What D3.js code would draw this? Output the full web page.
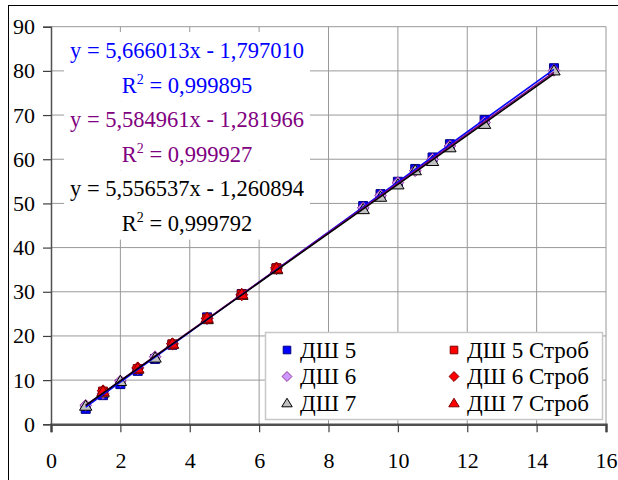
<!DOCTYPE html>
<html>
<head>
<meta charset="utf-8">
<script src="https://cdn.jsdelivr.net/npm/d3@7"></script>
<style>
body { margin: 0; background: #fff; }
</style>
</head>
<body>
<script>
// x values of the measured points
var xMain = [1, 1.5, 2, 2.5, 3, 3.5, 4.5, 5.5, 6.5, 9, 9.5, 10, 10.5, 11, 11.5, 12.5, 14.5];
var xStrob = [1.5, 2.5, 3.5, 4.5, 5.5, 6.5];

// series values
var dsh5 = [3.5, 6.6, 9.1, 12.1, 14.8, 18.0, 24.2, 29.5, 35.3, 49.4, 52.1, 54.9, 57.8, 60.4, 63.4, 68.9, 80.6];
var dsh6 = [4.3, 7.0, 9.8, 12.6, 15.3, 18.2, 23.9, 29.4, 35.2, 49.0, 51.8, 54.7, 57.4, 60.0, 63.0, 68.3, 80.1];
var dsh7 = [4.2, 7.2, 9.8, 12.6, 15.1, 18.2, 23.8, 29.3, 35.1, 48.7, 51.5, 54.3, 57.5, 59.6, 62.7, 68.0, 80.1];
var dsh5Strob = [7.4, 12.5, 18.1, 23.9, 29.4, 35.3];
var dsh6Strob = [7.6, 12.8, 18.2, 24.0, 29.3, 35.4];
var dsh7Strob = [7.5, 12.7, 18.3, 24.1, 29.5, 35.3];

var seriesNames = ["ДШ 5", "ДШ 6", "ДШ 7", "ДШ 5 Строб", "ДШ 6 Строб", "ДШ 7 Строб"];

// linear trendlines of the first three series
var trendSlopes = [5.666013, 5.584961, 5.556537];
var trendIntercepts = [-1.797010, -1.281966, -1.260894];
var trendR2 = [0.999895, 0.999927, 0.999792];

var xTicks = [0, 2, 4, 6, 8, 10, 12, 14, 16];
var yTicks = [0, 10, 20, 30, 40, 50, 60, 70, 80, 90];

var FONT = "'Liberation Serif'";

// marker styles per series
var styles = [
  {shape: "square", fill: "#0000ff", stroke: "#000080"},
  {shape: "diamond", fill: "#cc99ff", stroke: "#993399"},
  {shape: "triangle", fill: "#c0c0c0", stroke: "#000000"},
  {shape: "square", fill: "#ff0000", stroke: "#800000"},
  {shape: "diamond", fill: "#ff0000", stroke: "#800000"},
  {shape: "triangle", fill: "#ff0000", stroke: "#800000"}
];
var trendColors = ["#0000ff", "#800080", "#000000"];

var series = [
  {xs: xMain, ys: dsh5}, {xs: xMain, ys: dsh6}, {xs: xMain, ys: dsh7},
  {xs: xStrob, ys: dsh5Strob}, {xs: xStrob, ys: dsh6Strob}, {xs: xStrob, ys: dsh7Strob}
];

var margin = {top: 26.7, right: 12, bottom: 55.7, left: 51},
    width = 618 - margin.left - margin.right,
    height = 480 - margin.top - margin.bottom;

var svg = d3.select("body").append("svg")
    .attr("width", 618)
    .attr("height", 480)
    .style("font-family", FONT);

// outer chart frame (runs off the right and bottom edges)
svg.append("rect")
    .attr("x", 8.5).attr("y", 5.5)
    .attr("width", 700).attr("height", 600)
    .attr("fill", "#fff").attr("stroke", "#000").attr("stroke-width", 1);

var g = svg.append("g")
    .attr("transform", "translate(" + margin.left + "," + margin.top + ")");

var x = d3.scaleLinear().domain([0, 16]).range([0, width]);
var y = d3.scaleLinear().domain([0, 90]).range([height, 0]);

// gridlines
g.append("g").selectAll("line")
    .data(yTicks.slice(1)).enter().append("line")
    .attr("x1", 0).attr("x2", width)
    .attr("y1", function(d) { return y(d); }).attr("y2", function(d) { return y(d); })
    .attr("stroke", "#999").attr("stroke-width", 1);
g.append("g").selectAll("line")
    .data(xTicks.slice(1)).enter().append("line")
    .attr("y1", 0).attr("y2", height)
    .attr("x1", function(d) { return x(d); }).attr("x2", function(d) { return x(d); })
    .attr("stroke", "#999").attr("stroke-width", 1);

// axes
var yAxis = g.append("g")
    .call(d3.axisLeft(y).tickValues(yTicks).tickSize(8).tickPadding(8));
var xAxis = g.append("g")
    .attr("transform", "translate(0," + height + ")")
    .call(d3.axisBottom(x).tickValues(xTicks).tickSize(8).tickPadding(20));
[xAxis, yAxis].forEach(function(a) {
  a.attr("font-family", null).attr("font-size", null);
  a.select(".domain").attr("stroke", "#505050");
  a.selectAll(".tick line").attr("stroke", "#404040").attr("stroke-width", 1.2);
  a.selectAll("text")
    .attr("fill", "#000")
    .style("font-family", FONT)
    .style("font-size", "22px");
});
yAxis.select(".domain").attr("stroke-width", 1.5);
xAxis.select(".domain").attr("stroke-width", 2.5);

// equation labels with white boxes behind them
var fmt = d3.format(".6f");
function comma(v) { return fmt(v).replace(".", ","); }
var labels = g.append("g");
trendSlopes.forEach(function(s, i) {
  var b1 = 58 + 34.6 * (2 * i) - margin.top;
  var b2 = b1 + 34.6;
  var lg = labels.append("g");
  lg.append("rect").attr("fill", "#fff")
     .attr("x", 64 - margin.left).attr("width", 246)
     .attr("y", b1 - 26).attr("height", 69.2);
  lg.append("text")
      .attr("x", 187 - margin.left).attr("y", b1)
      .attr("text-anchor", "middle")
      .attr("fill", trendColors[i])
      .style("font-family", FONT)
      .style("font-size", "22.5px")
      .text("y = " + comma(s) + "x - " + comma(-trendIntercepts[i]));
  var t2 = lg.append("text")
      .attr("x", 187 - margin.left).attr("y", b2)
      .attr("text-anchor", "middle")
      .attr("fill", trendColors[i])
      .style("font-family", FONT)
      .style("font-size", "22.5px");
  t2.append("tspan").text("R");
  t2.append("tspan").attr("dy", -9).style("font-size", "14px").text("2");
  t2.append("tspan").attr("dy", 9).text(" = " + comma(trendR2[i]));
});

// markers
function symbolPath(shape, r) {
  if (shape == "square") return "M" + (-r) + "," + (-r) + "H" + r + "V" + r + "H" + (-r) + "Z";
  if (shape == "diamond") { var d = r * 1.3; return "M0," + (-d) + "L" + d + ",0L0," + d + "L" + (-d) + ",0Z"; }
  var t = r * 1.25;
  return "M0," + (-t) + "L" + (t * 1.1) + "," + (t * 0.8) + "L" + (-t * 1.1) + "," + (t * 0.8) + "Z";
}

series.forEach(function(sr, i) {
  var st = styles[i];
  g.append("g").selectAll("path")
      .data(sr.ys).enter().append("path")
      .attr("transform", function(d, j) { return "translate(" + x(sr.xs[j]) + "," + y(d) + ")"; })
      .attr("d", symbolPath(st.shape, 4.5))
      .attr("fill", st.fill)
      .attr("stroke", st.stroke)
      .attr("stroke-width", 1);
});

// trendlines over the data range
trendSlopes.forEach(function(s, i) {
  var x0 = d3.min(series[i].xs), x1 = d3.max(series[i].xs);
  g.append("line")
      .attr("x1", x(x0)).attr("y1", y(s * x0 + trendIntercepts[i]))
      .attr("x2", x(x1)).attr("y2", y(s * x1 + trendIntercepts[i]))
      .attr("stroke", trendColors[i]).attr("stroke-width", 1.5);
});

// legend
var legend = svg.append("g");
legend.append("rect")
    .attr("x", 265.5).attr("y", 332.5).attr("width", 337).attr("height", 87)
    .attr("fill", "#fff").attr("stroke", "#c8c8c8").attr("stroke-width", 1.5);
seriesNames.forEach(function(name, i) {
  var col = Math.floor(i / 3), row = i % 3;
  var cy = 350 + row * 26.5;
  var mx = col == 0 ? 287 : 454;
  legend.append("path")
      .attr("transform", "translate(" + mx + "," + cy + ")")
      .attr("d", symbolPath(styles[i].shape, 3.8))
      .attr("fill", styles[i].fill)
      .attr("stroke", styles[i].stroke);
  legend.append("text")
      .attr("x", mx + 13).attr("y", cy + 7.5)
      .style("font-family", FONT)
      .style("font-size", "23px")
      .text(name);
});
</script>
</body>
</html>
